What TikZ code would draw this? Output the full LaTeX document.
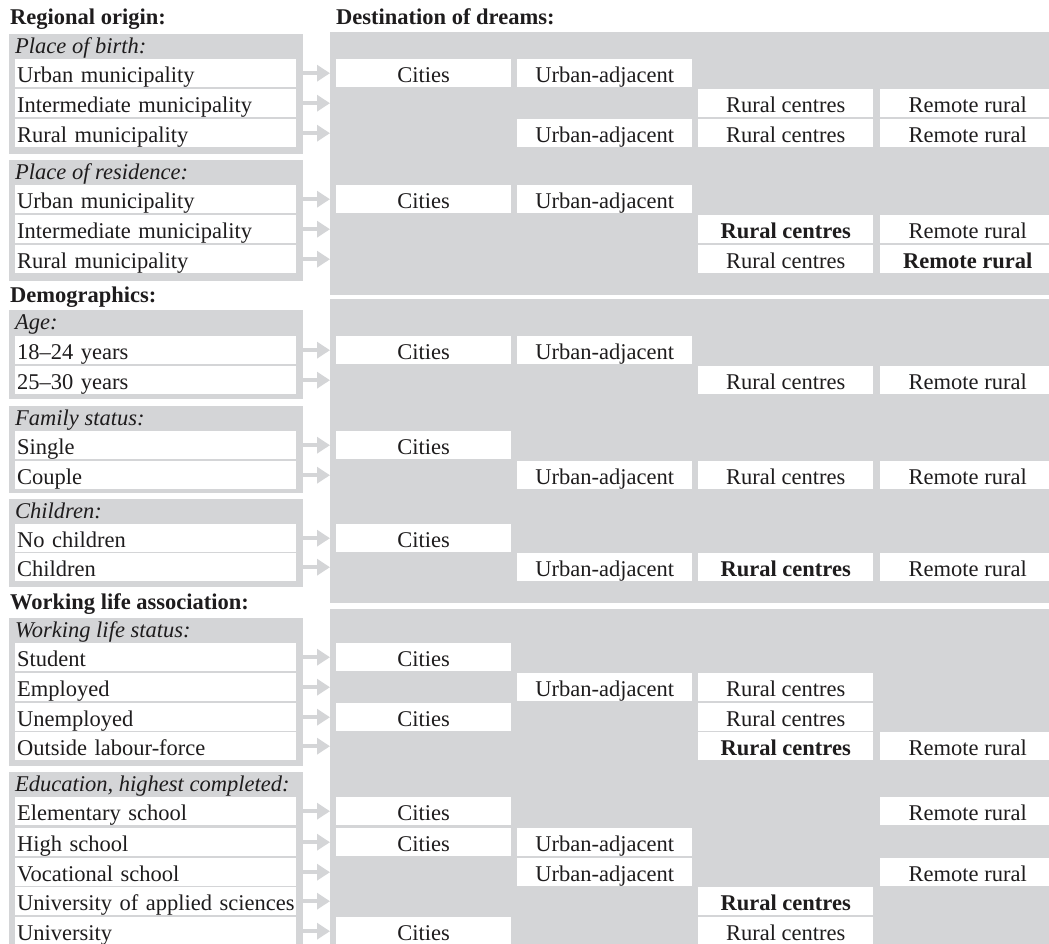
\documentclass[tikz,border=0pt]{standalone}
\usepackage{fontspec}
\setmainfont{Liberation Serif}
\usetikzlibrary{arrows.meta}
\definecolor{panel}{RGB}{212,213,215}
\definecolor{ink}{RGB}{30,28,29}
\newcommand\bodyfont{\fontsize{22.5pt}{27pt}\selectfont}
% one option row on the left, with its arrow into the destination block
\newcommand\optrow[5]{%
  \node[lrow] (#1) at (15,#2) {\mbox{#3}};
  \draw[arr] (#1.east -| #4.east) -- (#1.east -| #5.west);}
% one destination cell: name, column x, row top y, text
\newcommand\dcell[4]{\node[dbox] (#1) at (#2,#3) {#4};}
\begin{document}
\begin{tikzpicture}[x=1pt,y=-1pt,font=\bodyfont,text=ink,
  grp/.style={fill=panel,draw=none,anchor=north west,inner sep=0pt,minimum width=294pt},
  blk/.style={fill=panel,draw=none,anchor=north west,inner sep=0pt,minimum width=740pt},
  lrow/.style={fill=white,anchor=north west,inner xsep=2pt,inner ysep=0pt,text width=277pt,align=left,text height=23pt,text depth=5pt},
  dbox/.style={fill=white,anchor=north west,inner xsep=0pt,inner ysep=0pt,minimum width=175pt,text height=23pt,text depth=5pt,align=center},
  head/.style={anchor=base west,inner sep=0pt,font=\bodyfont\bfseries},
  sub/.style={anchor=base west,inner sep=0pt,font=\bodyfont\itshape},
  arr/.style={draw=panel,line width=3.5pt,-{Triangle[length=13pt,width=16pt]}}]
\useasboundingbox (0,0) rectangle (1049,943);
\clip (0,0) rectangle (1049,943);

% column x positions of the destination cells
\def\cC{336}\def\cU{517}\def\cR{698}\def\cM{880}

% headings
\node[head] (t1) at (10,24) {Regional origin:};
\node[head] (t2) at (336,24) {Destination of dreams:};
\node[head] (t3) at (10,302) {Demographics:};
\node[head] (t4) at (10,609) {Working life association:};

% destination blocks
\node[blk,minimum height=263pt] (d1) at (330,32) {};
\node[blk,minimum height=304pt] (d2) at (330,299) {};
\node[blk,minimum height=400pt] (d3) at (330,609) {};

% group panels
\node[grp,minimum height=120pt] (g1) at (9,34) {};
\node[grp,minimum height=121pt] (g2) at (9,160) {};
\node[grp,minimum height=89pt]  (g3) at (9,310) {};
\node[grp,minimum height=87pt]  (g4) at (9,406) {};
\node[grp,minimum height=88pt]  (g5) at (9,499) {};
\node[grp,minimum height=148pt] (g6) at (9,618) {};
\node[grp,minimum height=250pt] (g7) at (9,772) {};

% group labels
\node[sub] (s1) at (15,53) {Place of birth:};
\node[sub] (s2) at (15,179) {Place of residence:};
\node[sub] (s3) at (15,329) {Age:};
\node[sub] (s4) at (15,425) {Family status:};
\node[sub] (s5) at (15,518) {Children:};
\node[sub] (s6) at (15,637) {Working life status:};
\node[sub] (s7) at (15,791) {Education, highest completed:};

% option rows
\optrow{b1}{59}{Urban municipality}{g1}{d1}
\optrow{b2}{89}{Intermediate municipality}{g1}{d1}
\optrow{b3}{119}{Rural municipality}{g1}{d1}
\optrow{r1}{185}{Urban municipality}{g2}{d1}
\optrow{r2}{215}{Intermediate municipality}{g2}{d1}
\optrow{r3}{245}{Rural municipality}{g2}{d1}
\optrow{a1}{336}{18--24 years}{g3}{d2}
\optrow{a2}{366}{25--30 years}{g3}{d2}
\optrow{f1}{431}{Single}{g4}{d2}
\optrow{f2}{461}{Couple}{g4}{d2}
\optrow{c1}{524}{No children}{g5}{d2}
\optrow{c2}{553}{Children}{g5}{d2}
\optrow{w1}{643}{Student}{g6}{d3}
\optrow{w2}{673}{Employed}{g6}{d3}
\optrow{w3}{703}{Unemployed}{g6}{d3}
\optrow{w4}{732}{Outside labour-force}{g6}{d3}
\optrow{e1}{797}{Elementary school}{g7}{d3}
\optrow{e2}{828}{High school}{g7}{d3}
\optrow{e3}{858}{Vocational school}{g7}{d3}
\optrow{e4}{887}{University of applied sciences}{g7}{d3}
\optrow{e5}{917}{University}{g7}{d3}

% destination cells
\dcell{b1C}{\cC}{59}{Cities}
\dcell{b1U}{\cU}{59}{Urban-adjacent}
\dcell{b2R}{\cR}{89}{Rural centres}
\dcell{b2M}{\cM}{89}{Remote rural}
\dcell{b3U}{\cU}{119}{Urban-adjacent}
\dcell{b3R}{\cR}{119}{Rural centres}
\dcell{b3M}{\cM}{119}{Remote rural}

\dcell{r1C}{\cC}{185}{Cities}
\dcell{r1U}{\cU}{185}{Urban-adjacent}
\dcell{r2R}{\cR}{215}{\textbf{Rural centres}}
\dcell{r2M}{\cM}{215}{Remote rural}
\dcell{r3R}{\cR}{245}{Rural centres}
\dcell{r3M}{\cM}{245}{\textbf{Remote rural}}

\dcell{a1C}{\cC}{336}{Cities}
\dcell{a1U}{\cU}{336}{Urban-adjacent}
\dcell{a2R}{\cR}{366}{Rural centres}
\dcell{a2M}{\cM}{366}{Remote rural}

\dcell{f1C}{\cC}{431}{Cities}
\dcell{f2U}{\cU}{461}{Urban-adjacent}
\dcell{f2R}{\cR}{461}{Rural centres}
\dcell{f2M}{\cM}{461}{Remote rural}

\dcell{c1C}{\cC}{524}{Cities}
\dcell{c2U}{\cU}{553}{Urban-adjacent}
\dcell{c2R}{\cR}{553}{\textbf{Rural centres}}
\dcell{c2M}{\cM}{553}{Remote rural}

\dcell{w1C}{\cC}{643}{Cities}
\dcell{w2U}{\cU}{673}{Urban-adjacent}
\dcell{w2R}{\cR}{673}{Rural centres}
\dcell{w3C}{\cC}{703}{Cities}
\dcell{w3R}{\cR}{703}{Rural centres}
\dcell{w4R}{\cR}{732}{\textbf{Rural centres}}
\dcell{w4M}{\cM}{732}{Remote rural}

\dcell{e1C}{\cC}{797}{Cities}
\dcell{e1M}{\cM}{797}{Remote rural}
\dcell{e2C}{\cC}{828}{Cities}
\dcell{e2U}{\cU}{828}{Urban-adjacent}
\dcell{e3U}{\cU}{858}{Urban-adjacent}
\dcell{e3M}{\cM}{858}{Remote rural}
\dcell{e4R}{\cR}{887}{\textbf{Rural centres}}
\dcell{e5C}{\cC}{917}{Cities}
\dcell{e5R}{\cR}{917}{Rural centres}
\end{tikzpicture}
\end{document}
